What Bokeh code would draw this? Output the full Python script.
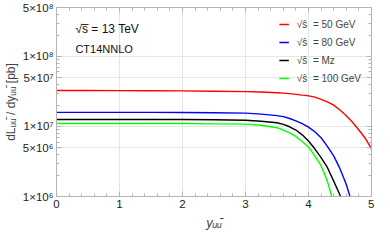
from bokeh.plotting import figure
from bokeh.models import Range1d, FixedTicker, LinearAxis, LogAxis, Label, Legend, LegendItem
from bokeh.embed import file_html
from bokeh.resources import INLINE

# rapidity grid
y_vals = [0.0, 0.5, 1.0, 1.5, 2.0, 2.5, 3.0, 3.25, 3.5, 3.6, 3.7, 3.8, 3.9, 4.0,
          4.1, 4.2, 4.3, 4.4, 4.5, 4.6, 4.7, 4.8, 4.9, 5.0]

lum_50 = [3.26e7, 3.26e7, 3.25e7, 3.24e7, 3.22e7, 3.19e7, 3.14e7, 3.10e7, 3.03e7, 2.99e7, 2.94e7,
          2.87e7, 2.80e7, 2.74e7, 2.62e7, 2.44e7, 2.24e7, 2.02e7, 1.72e7, 1.42e7, 1.15e7, 8.9e6,
          6.8e6, 4.8e6]
lum_80 = [1.59e7, 1.59e7, 1.59e7, 1.59e7, 1.58e7, 1.57e7, 1.55e7, 1.50e7, 1.43e7, 1.38e7, 1.30e7,
          1.20e7, 1.10e7, 9.8e6, 8.4e6, 6.9e6, 5.2e6, 3.8e6, 2.5e6, 1.48e6, 7.6e5, 3.0e5,
          1.0e5, 2.0e4]
lum_mz = [1.26e7, 1.26e7, 1.26e7, 1.26e7, 1.26e7, 1.25e7, 1.23e7, 1.19e7, 1.13e7, 1.07e7, 9.9e6,
          8.9e6, 7.6e6, 6.2e6, 4.8e6, 3.6e6, 2.6e6, 1.66e6, 1.05e6, 5.0e5, 2.0e5, 6.0e4,
          1.0e4, 1.0e3]
lum_100 = [1.10e7, 1.10e7, 1.10e7, 1.10e7, 1.10e7, 1.09e7, 1.08e7, 1.04e7, 9.6e6, 8.9e6, 8.1e6,
           7.2e6, 6.1e6, 5.1e6, 3.8e6, 2.75e6, 1.66e6, 8.0e5, 4.0e5, 1.5e5, 4.0e4, 8.0e3,
           1.0e3, 1.0e2]

series_labels = ["\u221a\u015d  = 50 GeV", "\u221a\u015d  = 80 GeV", "\u221a\u015d  = M\u1d22", "\u221a\u015d  = 100 GeV"]
series_colors = ["#ff0000", "#0000ff", "#000000", "#00ff00"]

x_ticks = [0, 1, 2, 3, 4, 5]
x_minor = [i * 0.2 for i in range(26)]
y_ticks = [1e6, 5e6, 1e7, 5e7, 1e8, 5e8]
y_tick_labels = ["1\u00d710\u2076", "5\u00d710\u2076", "1\u00d710\u2077", "5\u00d710\u2077", "1\u00d710\u2078", "5\u00d710\u2078"]
y_minor = [m * 10 ** e for e in range(6, 9) for m in range(1, 10)]

FONT = "Liberation Sans"
FRAME = "#b4b4b4"

p = figure(width=374, height=232, y_axis_type="log", output_backend="svg", toolbar_location=None,
           x_range=Range1d(0, 5), y_range=Range1d(1e6, 5e8),
           min_border_left=4, min_border_right=3, min_border_top=7, min_border_bottom=2)
p.outline_line_color = FRAME
p.background_fill_color = "white"
p.border_fill_color = "white"

renderers = []
for vals, col in zip([lum_50, lum_80, lum_mz, lum_100], series_colors):
    r = p.line(y_vals, vals, line_color=col, line_width=1.4)
    renderers.append(r)

def style_axis(ax):
    ax.axis_line_color = FRAME
    ax.major_tick_line_color = FRAME
    ax.minor_tick_line_color = FRAME
    ax.major_tick_in = 5
    ax.major_tick_out = 0
    ax.minor_tick_in = 3
    ax.minor_tick_out = 0
    ax.major_label_text_font = FONT
    ax.major_label_text_font_size = "11.5px"
    ax.major_label_text_color = "#222222"

xa = p.xaxis[0]
xa.ticker = FixedTicker(ticks=x_ticks, minor_ticks=x_minor)
style_axis(xa)
xa.major_label_standoff = 3
xa.axis_label = "y\u1d64\u1d64\u0304"
xa.axis_label_text_font = FONT
xa.axis_label_text_font_style = "italic"
xa.axis_label_text_font_size = "13px"
xa.axis_label_standoff = 4

ya = p.yaxis[0]
ya.ticker = FixedTicker(ticks=y_ticks, minor_ticks=y_minor)
ya.major_label_overrides = {t: l for t, l in zip(y_ticks, y_tick_labels)}
style_axis(ya)
ya.major_label_standoff = 3
ya.axis_label = "dL\u1d64\u1d64\u0304 / dy\u1d64\u1d64\u0304 [pb]"
ya.axis_label_text_font = FONT
ya.axis_label_text_font_style = "normal"
ya.axis_label_text_font_size = "12px"
ya.axis_label_standoff = 2

top = LinearAxis(ticker=FixedTicker(ticks=x_ticks, minor_ticks=x_minor))
style_axis(top)
top.major_label_overrides = {t: "" for t in x_ticks}
top.major_label_standoff = 0
p.add_layout(top, "above")
right = LogAxis(ticker=FixedTicker(ticks=y_ticks, minor_ticks=y_minor))
style_axis(right)
right.major_label_overrides = {t: "" for t in y_ticks}
right.major_label_standoff = 0
p.add_layout(right, "right")

p.xgrid.ticker = FixedTicker(ticks=x_ticks)
p.ygrid.ticker = FixedTicker(ticks=y_ticks)
p.xgrid.grid_line_color = "#e6e6e6"
p.ygrid.grid_line_color = "#e6e6e6"

p.add_layout(Label(x=0.3, y=2.5e8, text="\u221as\u0305 = 13 TeV", text_font=FONT, text_font_size="12px",
                   text_baseline="middle", text_color="#111111"))
p.add_layout(Label(x=0.3, y=1.27e8, text="CT14NNLO", text_font=FONT, text_font_size="11px",
                   text_baseline="middle", text_color="#111111"))

legend = Legend(items=[LegendItem(label=l, renderers=[r]) for l, r in zip(series_labels, renderers)],
                location="top_right")
legend.label_text_font = FONT
legend.label_text_font_size = "10px"
legend.label_height = 14
legend.glyph_height = 14
legend.glyph_width = 10
legend.spacing = 4
legend.padding = 2
legend.margin = 8
legend.label_standoff = 8
legend.background_fill_alpha = 0
legend.border_line_alpha = 0
p.add_layout(legend, "center")

open("out.html", "w").write(file_html(p, INLINE))
